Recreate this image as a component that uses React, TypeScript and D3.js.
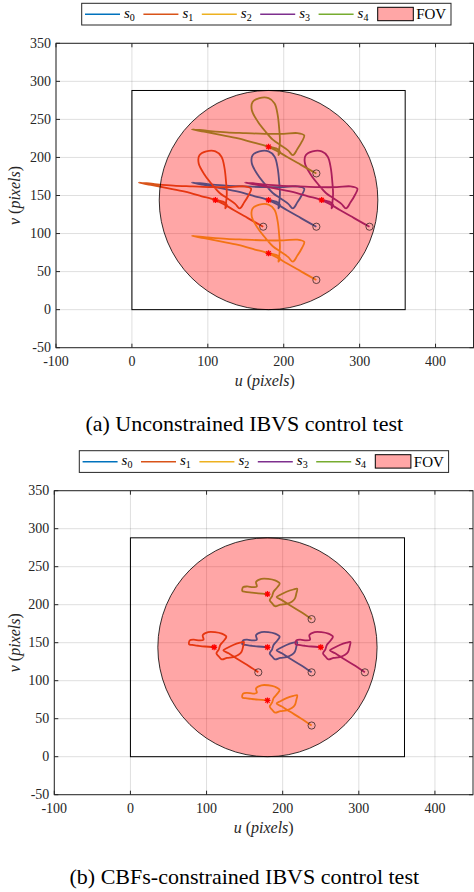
import * as d3 from 'd3';

// feature tracks (u, v) read from the unconstrained test
const s0Top: [number, number][] = [[243,109],[232,115],[218,123],[204,131],[192,138],[180,144],[162,149],[140,155],[115,160],[95,164],[79,167],[100,165],[125,163],[150,162],[175,161],[200,161],[218,162],[227,159],[224,151],[218,141],[212,133],[206,139],[196,146],[186,153],[176,164],[166,177],[158,192],[159,203],[168,208],[180,208],[188,201],[192,186],[194,168],[195,152],[194,140],[193,133],[195,138],[190,142],[180,144]];
const s1Top: [number, number][] = [[173,109],[162,115],[148,123],[134,131],[122,138],[110,144],[92,149],[70,155],[45,160],[25,164],[9,167],[30,165],[55,163],[80,162],[105,161],[130,161],[148,162],[157,159],[154,151],[148,141],[142,133],[136,139],[126,146],[116,153],[106,164],[96,177],[88,192],[89,203],[98,208],[110,208],[118,201],[122,186],[124,168],[125,152],[124,140],[123,133],[125,138],[120,142],[110,144]];
const s2Top: [number, number][] = [[243,39],[232,45],[218,53],[204,61],[192,68],[180,74],[162,79],[140,85],[115,90],[95,94],[79,97],[100,95],[125,93],[150,92],[175,91],[200,91],[218,92],[227,89],[224,81],[218,71],[212,63],[206,69],[196,76],[186,83],[176,94],[166,107],[158,122],[159,133],[168,138],[180,138],[188,131],[192,116],[194,98],[195,82],[194,70],[193,63],[195,68],[190,72],[180,74]];
const s3Top: [number, number][] = [[313,109],[302,115],[288,123],[274,131],[262,138],[250,144],[232,149],[210,155],[185,160],[165,164],[149,167],[170,165],[195,163],[220,162],[245,161],[270,161],[288,162],[297,159],[294,151],[288,141],[282,133],[276,139],[266,146],[256,153],[246,164],[236,177],[228,192],[229,203],[238,208],[250,208],[258,201],[262,186],[264,168],[265,152],[264,140],[263,133],[265,138],[260,142],[250,144]];
const s4Top: [number, number][] = [[243,179],[232,185],[218,193],[204,201],[192,208],[180,214],[162,219],[140,225],[115,230],[95,234],[79,237],[100,235],[125,233],[150,232],[175,231],[200,231],[218,232],[227,229],[224,221],[218,211],[212,203],[206,209],[196,216],[186,223],[176,234],[166,247],[158,262],[159,273],[168,278],[180,278],[188,271],[192,256],[194,238],[195,222],[194,210],[193,203],[195,208],[190,212],[180,214]];

// feature tracks with the CBF constraints
const s0Bot: [number, number][] = [[238,111],[223,121],[210,129],[199,136],[192,140],[197,143],[205,147],[214,150],[219,151],[218,145],[216,138],[212,134],[205,131],[197,130],[190,128],[186,132],[183,136],[186,141],[188,147],[193,153],[196,158],[190,162],[181,164],[172,164],[165,160],[166,154],[161,153],[153,154],[148,153],[147,148],[151,147],[159,146],[168,145],[180,144]];
const s1Bot: [number, number][] = [[168,111],[153,121],[140,129],[129,136],[122,140],[127,143],[135,147],[144,150],[149,151],[148,145],[146,138],[142,134],[135,131],[127,130],[120,128],[116,132],[113,136],[116,141],[118,147],[123,153],[126,158],[120,162],[111,164],[102,164],[95,160],[96,154],[91,153],[83,154],[78,153],[77,148],[81,147],[89,146],[98,145],[110,144]];
const s2Bot: [number, number][] = [[238,41],[223,51],[210,59],[199,66],[192,70],[197,73],[205,77],[214,80],[219,81],[218,75],[216,68],[212,64],[205,61],[197,60],[190,58],[186,62],[183,66],[186,71],[188,77],[193,83],[196,88],[190,92],[181,94],[172,94],[165,90],[166,84],[161,83],[153,84],[148,83],[147,78],[151,77],[159,76],[168,75],[180,74]];
const s3Bot: [number, number][] = [[308,111],[293,121],[280,129],[269,136],[262,140],[267,143],[275,147],[284,150],[289,151],[288,145],[286,138],[282,134],[275,131],[267,130],[260,128],[256,132],[253,136],[256,141],[258,147],[263,153],[266,158],[260,162],[251,164],[242,164],[235,160],[236,154],[231,153],[223,154],[218,153],[217,148],[221,147],[229,146],[238,145],[250,144]];
const s4Bot: [number, number][] = [[238,181],[223,191],[210,199],[199,206],[192,210],[197,213],[205,217],[214,220],[219,221],[218,215],[216,208],[212,204],[205,201],[197,200],[190,198],[186,202],[183,206],[186,211],[188,217],[193,223],[196,228],[190,232],[181,234],[172,234],[165,230],[166,224],[161,223],[153,224],[148,223],[147,218],[151,217],[159,216],[168,215],[180,214]];

const seriesNames = ['0', '1', '2', '3', '4'];
const seriesColors = ['#0072BD', '#D95319', '#EDB120', '#7E2F8E', '#77AC30'];
const xTicks = [-100, 0, 100, 200, 300, 400];
const yTicks = [-50, 0, 50, 100, 150, 200, 250, 300, 350];
const imageSize = [360, 288]; // image plane width, height
const fov = { cu: 180, cv: 144, r: 144 };

const SERIF = '"Liberation Serif", "Times New Roman", serif';

type PanelProps = {
  tracks: [number, number][][];
  left: number; right: number; top: number; bottom: number;
  legendX: number; legendY: number;
  caption: string; captionY: number;
};

function Panel({ tracks, left, right, top, bottom, legendX, legendY, caption, captionY }: PanelProps) {
  const x = d3.scaleLinear().domain([-100, 450]).range([left, right]);
  const y = d3.scaleLinear().domain([-50, 350]).range([bottom, top]);
  const line = d3.line<[number, number]>()
    .x(d => x(d[0]))
    .y(d => y(d[1]))
    .curve(d3.curveCatmullRom.alpha(0.5));
  const tick = 4;
  const midY = (top + bottom) / 2;
  const midX = (left + right) / 2;

  return (
    <g>
      {/* grid */}
      {xTicks.map(t => (
        <line key={'gx' + t} x1={x(t)} x2={x(t)} y1={top} y2={bottom} stroke="#262626" strokeOpacity={0.15} />
      ))}
      {yTicks.map(t => (
        <line key={'gy' + t} x1={left} x2={right} y1={y(t)} y2={y(t)} stroke="#262626" strokeOpacity={0.15} />
      ))}

      {/* trajectories */}
      {tracks.map((tr, i) => (
        <path key={'tr' + i} d={line(tr) || ''} fill="none" stroke={seriesColors[i]} strokeWidth={1.8} strokeLinejoin="round" />
      ))}

      {/* image rectangle */}
      <rect x={x(0)} y={y(imageSize[1])} width={x(imageSize[0]) - x(0)} height={y(0) - y(imageSize[1])}
        fill="none" stroke="#000" strokeWidth={1} />

      {/* FOV */}
      <ellipse cx={x(fov.cu)} cy={y(fov.cv)} rx={x(fov.cu + fov.r) - x(fov.cu)} ry={y(fov.cv - fov.r) - y(fov.cv)}
        fill="#ff0000" fillOpacity={0.35} stroke="#000" strokeWidth={0.8} />

      {/* start and goal markers */}
      {tracks.map((tr, i) => {
        const s = tr[0];
        const g = tr[tr.length - 1];
        const gx = x(g[0]);
        const gy = y(g[1]);
        const a = 3;
        const b = 2.2;
        return (
          <g key={'m' + i}>
            <circle cx={x(s[0])} cy={y(s[1])} r={3.6} fill="none" stroke="#3a2626" strokeWidth={0.8} />
            <path d={`M${gx - a},${gy}H${gx + a}M${gx},${gy - a}V${gy + a}M${gx - b},${gy - b}L${gx + b},${gy + b}M${gx - b},${gy + b}L${gx + b},${gy - b}`}
              stroke="#ff0000" strokeWidth={1.3} />
          </g>
        );
      })}

      {/* box and ticks */}
      <rect x={left} y={top} width={right - left} height={bottom - top} fill="none" stroke="#262626" strokeWidth={1} />
      {xTicks.map(t => (
        <g key={'tx' + t}>
          <line x1={x(t)} x2={x(t)} y1={bottom} y2={bottom - tick} stroke="#262626" />
          <line x1={x(t)} x2={x(t)} y1={top} y2={top + tick} stroke="#262626" />
          <text x={x(t)} y={bottom + 18.5} textAnchor="middle" fontFamily={SERIF} fontSize={14} fill="#262626">{t}</text>
        </g>
      ))}
      {yTicks.map(t => (
        <g key={'ty' + t}>
          <line x1={left} x2={left + tick} y1={y(t)} y2={y(t)} stroke="#262626" />
          <line x1={right} x2={right - tick} y1={y(t)} y2={y(t)} stroke="#262626" />
          <text x={left - 5} y={y(t) + 4.5} textAnchor="end" fontFamily={SERIF} fontSize={14} fill="#262626">{t}</text>
        </g>
      ))}

      {/* axis labels */}
      <text x={midX} y={bottom + 38} textAnchor="middle" fontFamily={SERIF} fontSize={16} fill="#262626">
        <tspan fontStyle="italic">u</tspan> (<tspan fontStyle="italic">pixels</tspan>)
      </text>
      <text transform={`translate(20,${midY}) rotate(-90)`} textAnchor="middle" fontFamily={SERIF} fontSize={16} fill="#262626">
        <tspan fontStyle="italic">v</tspan> (<tspan fontStyle="italic">pixels</tspan>)
      </text>

      {/* legend */}
      <g transform={`translate(${legendX},${legendY})`}>
        <rect x={0} y={0} width={369.3} height={21.7} fill="#fff" stroke="#262626" strokeWidth={1} />
        {seriesNames.map((n, i) => (
          <g key={'lg' + n} transform={`translate(${3.3 + i * 58.4},0)`}>
            <line x1={0} x2={35} y1={11} y2={11} stroke={seriesColors[i]} strokeWidth={1.6} />
            <text x={39} y={14.5} fontFamily={SERIF} fontSize={15} fill="#000">
              <tspan fontStyle="italic">s</tspan>
              <tspan fontSize={10} dy={3}>{n}</tspan>
            </text>
          </g>
        ))}
        <rect x={296} y={4} width={35.6} height={13.4} fill="#ffa6a6" stroke="#000" strokeWidth={1} />
        <text x={334.5} y={16} fontFamily={SERIF} fontSize={15} fill="#000">FOV</text>
      </g>

      {/* caption */}
      <text x={244.3} y={captionY} textAnchor="middle" fontFamily={SERIF} fontSize={22} fill="#000">{caption}</text>
    </g>
  );
}

export default function App() {
  return (
    <svg width={474} height={892} style={{ position: 'absolute', left: 0, top: 0, background: '#fff' }}>
      <Panel tracks={[s0Top, s1Top, s2Top, s3Top, s4Top]}
        left={56} right={473.5} top={43.3} bottom={347.7}
        legendX={81.7} legendY={3.3}
        caption="(a) Unconstrained IBVS control test" captionY={430.5} />
      <Panel tracks={[s0Bot, s1Bot, s2Bot, s3Bot, s4Bot]}
        left={54.3} right={473} top={490.7} bottom={794.7}
        legendX={79.3} legendY={450.7}
        caption="(b) CBFs-constrained IBVS control test" captionY={884} />
    </svg>
  );
}
